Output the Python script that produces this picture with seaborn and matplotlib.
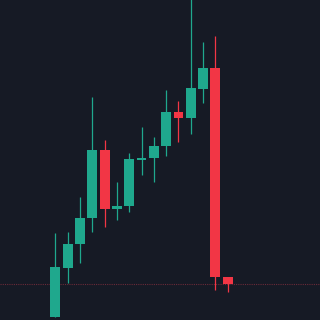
import matplotlib
matplotlib.use("Agg")
import matplotlib.pyplot as plt
import seaborn as sns
import numpy as np
import pandas as pd

opens  = [3.3, 51.7, 75.7, 101.7, 170.0, 110.7, 114.0, 160.3, 162.0, 174.0, 207.7, 201.7, 231.3, 252.0, 42.7]
highs  = [86.7, 88.0, 123.3, 223.3, 180.0, 138.3, 167.3, 193.3, 182.7, 230.0, 219.3, 335.0, 277.7, 284.0, 43.5]
lows   = [3.0, 36.7, 56.7, 88.3, 93.3, 100.0, 108.3, 145.0, 138.3, 164.3, 178.3, 185.7, 216.7, 30.0, 27.7]
closes = [52.7, 76.0, 102.0, 170.0, 110.7, 114.3, 161.0, 162.3, 174.3, 207.7, 201.7, 231.7, 252.0, 42.7, 36.0]
ref_price = 36.5

df = pd.DataFrame({"i": np.arange(len(opens)), "open": opens, "high": highs,
                   "low": lows, "close": closes})
df["up"] = df["close"] >= df["open"]

BG = "#161a25"
GREEN = "#1fa88d"
RED = "#f23645"

sns.set_theme(style="dark", rc={"axes.facecolor": BG, "figure.facecolor": BG})
fig = plt.figure(figsize=(3.2, 3.2), dpi=100)
ax = fig.add_axes([0, 0, 1, 1])
ax.set_facecolor(BG)

colors = np.where(df["up"], GREEN, RED)
ax.vlines(df["i"], df["low"], df["high"], colors=colors, linewidth=0.9, zorder=2)
bottoms = np.minimum(df["open"], df["close"])
heights = np.maximum(np.abs(df["close"] - df["open"]), 1.5)
ax.bar(df["i"], heights, bottom=bottoms, width=0.8, color=colors, linewidth=0, zorder=3)

ax.axhline(ref_price, color="#6b2a38", linewidth=0.8, linestyle=(0, (1, 1)), zorder=1)

ax.set_xlim(-4.5, 21.5)
ax.set_ylim(0, 320)
ax.set_axis_off()
fig.savefig("out.png", dpi=100, facecolor=BG)
